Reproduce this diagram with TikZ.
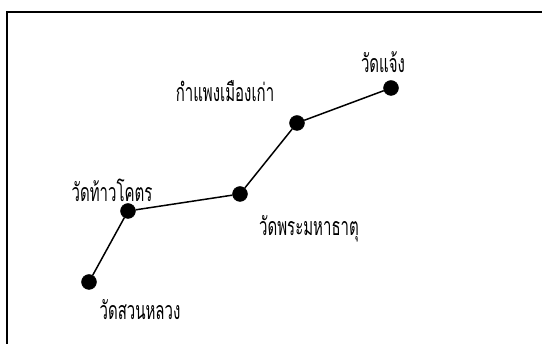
\documentclass[tikz,border=0pt]{standalone}
\usepackage{fontspec}
\newfontfamily\thaifont[Script=Thai,FakeStretch=0.6]{Loma}
\begin{document}
\begin{tikzpicture}[x=1pt,y=-1pt,
        jud/.style={draw,circle,fill,inner sep=0pt,minimum size=15pt},
        chue/.style={font=\thaifont\fontsize{25}{30}\selectfont,inner sep=0pt,anchor=base},
        thang/.style={line width=1.5pt}]
        \useasboundingbox (0,0) rectangle (542,344);
        \clip (0,0) rectangle (542,344);

        % กรอบ
        \draw[line width=1.2pt] (7,12) rectangle (560,360);

        % จุด
        \node[jud] (suanluang) at (89,282) {};
        \node[jud] (thaokot) at (128,211) {};
        \node[jud] (mahathat) at (240,194) {};
        \node[jud] (kamphaeng) at (297,123) {};
        \node[jud] (chaeng) at (391,88) {};

        % เส้นทาง
        \draw[thang] (suanluang) -- (thaokot) -- (mahathat) -- (kamphaeng) -- (chaeng);

        % ชื่อ
        \node[chue] (l-suanluang) at (140,320) {วัดสวนหลวง};
        \node[chue] (l-thaokot) at (112,202) {วัดท้าวโคตร};
        \node[chue] (l-mahathat) at (309,236) {วัดพระมหาธาตุ};
        \node[chue] (l-kamphaeng) at (225,102) {กำแพงเมืองเก่า};
        \node[chue] (l-chaeng) at (383,73) {วัดแจ้ง};
    \end{tikzpicture}
\end{document}
